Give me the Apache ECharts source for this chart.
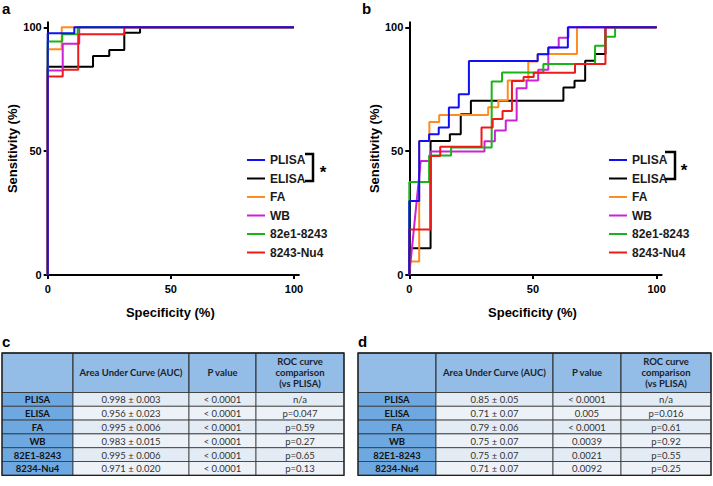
<!DOCTYPE html>
<html><head><meta charset="utf-8">
<script src="https://cdn.jsdelivr.net/npm/echarts@6/dist/echarts.min.js"></script>
<style>html,body{margin:0;padding:0;background:#fff}#c{width:713px;height:486px}</style>
</head><body><div id="c"></div>
<script>
// ---- data ----
const seriesNames = ['PLISA', 'ELISA', 'FA', 'WB', '82e1-8243', '8243-Nu4'];
const seriesColors = ['#1010F5', '#000000', '#FF8C1E', '#CC22D6', '#19B419', '#EE1A1A'];
const axisTicks = [0, 50, 100];

// panel a: [specificity axis value (%), sensitivity (%)]
const aPLISA = [[0,0],[0,97.6],[10.8,97.6],[10.8,100],[100,100]];
const aELISA = [[0,0],[0,84.1],[18.4,84.1],[18.4,88.4],[25,88.4],[25,90.8],[31.1,90.8],[31.1,97.8],[37.5,97.8],[37.5,100],[100,100]];
const aFA = [[0,0],[0,91.1],[5.7,91.1],[5.7,100],[100,100]];
const aWB = [[0,0],[0,82.5],[6.1,82.5],[6.1,93.3],[12.8,93.3],[12.8,100],[100,100]];
const a82e1 = [[0,0],[0,94.2],[5.9,94.2],[5.9,97.2],[12.2,97.2],[12.2,100],[100,100]];
const aNu4 = [[0,0],[0,80.1],[6.1,80.1],[6.1,82.8],[12.4,82.8],[12.4,97.2],[31.1,97.2],[31.1,100],[100,100]];

// panel b
const bPLISA = [[0,0],[0,29.9],[4,29.9],[4,54.1],[8,54.1],[8,56.8],[11.9,56.8],[11.9,59.5],[16,59.5],[16,67.6],[20,67.6],[20,73],[24.1,73],[24.1,86.4],[51.9,86.4],[51.9,89.1],[56.2,89.1],[56.2,91.8],[64.1,91.8],[64.1,100],[100,100]];
const bELISA = [[0,0],[0,10.8],[8.6,10.8],[8.6,54.1],[16.4,54.1],[16.4,56.8],[20.8,56.8],[20.8,64.9],[24.9,64.9],[24.9,70.3],[62.3,70.3],[62.3,75.7],[66.8,75.7],[66.8,78.4],[71.1,78.4],[71.1,86.5],[75.1,86.5],[75.1,89.2],[79.3,89.2],[79.3,100],[100,100]];
const bFA = [[0,0],[0,5.4],[4,5.4],[4,54.1],[8.1,54.1],[8.1,61.8],[12.1,61.8],[12.1,64.6],[31.9,64.6],[31.9,67.7],[36,67.7],[36,70.4],[39.8,70.4],[39.8,78.5],[48.1,78.5],[48.1,86.2],[51.9,86.2],[51.9,89.2],[67.8,89.2],[67.8,100],[100,100]];
const bWB = [[0,0],[4.6,46],[8.6,46],[8.6,49.8],[30.4,49.8],[30.4,54],[34.6,54],[34.6,58.3],[39,58.3],[39,62.4],[43.4,62.4],[43.4,75.4],[47.4,75.4],[47.4,78.5],[52.1,78.5],[52.1,82.8],[56.2,82.8],[56.2,91.8],[60.4,91.8],[60.4,95.8],[64.3,95.8],[64.3,100],[100,100]];
const b82e1 = [[0,0],[0,37.5],[8,37.5],[8,48.2],[16.9,48.2],[16.9,51.5],[33.3,51.5],[33.3,78.1],[37.5,78.1],[37.5,81.7],[54.2,81.7],[54.2,85.2],[75.1,85.2],[75.1,92.5],[79.2,92.5],[79.2,96.2],[83.2,96.2],[83.2,100],[100,100]];
const bNu4 = [[0,0],[0,18.4],[8.6,18.4],[8.6,48],[12.5,48],[12.5,51.8],[29.2,51.8],[29.2,59.5],[33.7,59.5],[33.7,63],[37.7,63],[37.7,66.2],[41.5,66.2],[41.5,78.3],[46.2,78.3],[46.2,79.9],[50.3,79.9],[50.3,81.6],[67,81.6],[67,85.2],[79.3,85.2],[79.3,100],[100,100]];

// tables
const tableHeaders = ['', 'Area Under Curve (AUC)', 'P value', 'ROC curve\ncomparison\n(vs PLISA)'];
const rowLabels = ['PLISA', 'ELISA', 'FA', 'WB', '82E1-8243', '8234-Nu4'];
const aucC = ['0.998 ± 0.003', '0.956 ± 0.023', '0.995 ± 0.006', '0.983 ± 0.015', '0.995 ± 0.006', '0.971 ± 0.020'];
const pC = ['< 0.0001', '< 0.0001', '< 0.0001', '< 0.0001', '< 0.0001', '< 0.0001'];
const cmpC = ['n/a', 'p=0.047', 'p=0.59', 'p=0.27', 'p=0.65', 'p=0.13'];
const aucD = ['0.85 ± 0.05', '0.71 ± 0.07', '0.79 ± 0.06', '0.75 ± 0.07', '0.75 ± 0.07', '0.71 ± 0.07'];
const pD = ['< 0.0001', '0.005', '< 0.0001', '0.0039', '0.0021', '0.0092'];
const cmpD = ['n/a', 'p=0.016', 'p=0.61', 'p=0.92', 'p=0.55', 'p=0.25'];

const FONT = 'Liberation Sans, Arial, sans-serif';
const TFONT = 'Lato, Open Sans, sans-serif';

const panelA = [aPLISA, aELISA, aFA, aWB, a82e1, aNu4];
const panelB = [bPLISA, bELISA, bFA, bWB, b82e1, bNu4];

function axisPair(idx) {
  const common = {
    type: 'value', min: 0, max: 102, gridIndex: idx,
    splitLine: {show: false},
    axisLine: {show: true, lineStyle: {color: '#000', width: 2}},
    axisTick: {show: true, length: 4, lineStyle: {color: '#000', width: 2}, customValues: axisTicks},
    axisLabel: {color: '#000', fontWeight: 'bold', fontSize: 11, fontFamily: FONT, customValues: axisTicks,
      formatter: v => (axisTicks.indexOf(v) >= 0 ? String(v) : '')}
  };
  const x = Object.assign({}, common, {
    name: 'Specificity (%)', nameLocation: 'middle', nameGap: 31,
    nameTextStyle: {color: '#000', fontWeight: 'bold', fontSize: 13, fontFamily: FONT, padding: [0, 6, 0, 0]},
    axisLabel: Object.assign({}, common.axisLabel, {margin: 8})
  });
  const y = Object.assign({}, common, {
    name: 'Sensitivity (%)', nameLocation: 'middle', nameGap: 25,
    nameTextStyle: {color: '#000', fontWeight: 'bold', fontSize: 13, fontFamily: FONT},
    axisLabel: Object.assign({}, common.axisLabel, {margin: 6})
  });
  return [x, y];
}
const ax = axisPair(0), bx = axisPair(1);

// draw order: PLISA on top
const drawOrder = [1, 2, 3, 4, 5, 0];
const series = [];
[panelA, panelB].forEach((panel, gi) => {
  drawOrder.forEach(i => {
    series.push({
      type: 'line', name: seriesNames[i], xAxisIndex: gi, yAxisIndex: gi,
      data: panel[i], showSymbol: false, symbol: 'none', color: seriesColors[i],
      lineStyle: {width: 2, color: seriesColors[i]}, animation: false, clip: false
    });
  });
});

function legend(left) {
  return {
    orient: 'vertical', left: left, top: 148, icon: 'rect', itemWidth: 18, itemHeight: 2,
    itemGap: 4.5, data: seriesNames, selectedMode: false,
    itemStyle: {borderWidth: 0},
    lineStyle: {width: 0},
    textStyle: {color: '#1a1a1a', fontWeight: 'bold', fontSize: 12, fontFamily: FONT, lineHeight: 14, padding: [0, 0, 0, 0]}
  };
}

// tables via graphic
function makeTable(colX, top, aucArr, pArr, cmpArr) {
  const els = [];
  const headH = 39.5, rowH = 13.8;
  const rowY = [top + headH];
  for (let i = 0; i < rowLabels.length; i++) rowY.push(rowY[i] + rowH);
  const right = colX[colX.length - 1], left = colX[0];
  for (let c = 0; c < 4; c++) {
    els.push({type: 'rect', shape: {x: colX[c], y: top, width: colX[c+1] - colX[c], height: headH},
      style: {fill: '#93BCE6', stroke: '#2a2a2a', lineWidth: 1}});
    if (tableHeaders[c]) {
      els.push({type: 'text', style: {text: tableHeaders[c], x: (colX[c] + colX[c+1]) / 2, y: top + headH / 2,
        align: 'center', verticalAlign: 'middle', fill: '#1b1f2a', fontSize: 9.5, fontWeight: 'bold',
        fontFamily: TFONT, lineHeight: 11}});
    }
  }
  const cols = [rowLabels, aucArr, pArr, cmpArr];
  for (let r = 0; r < rowLabels.length; r++) {
    for (let c = 0; c < 4; c++) {
      const fill = c === 0 ? '#6EA8E0' : (r % 2 === 0 ? '#E3EBF5' : '#EDF2F8');
      els.push({type: 'rect', shape: {x: colX[c], y: rowY[r], width: colX[c+1] - colX[c], height: rowH},
        style: {fill: fill, stroke: '#333', lineWidth: 0.8}});
      els.push({type: 'text', style: {text: cols[c][r], x: (colX[c] + colX[c+1]) / 2, y: rowY[r] + rowH / 2 + 0.5,
        align: 'center', verticalAlign: 'middle', fill: c === 0 ? '#111' : '#333',
        fontSize: 9.5, fontWeight: c === 0 ? 'bold' : 'normal', fontFamily: TFONT}});
    }
  }
  els.push({type: 'rect', shape: {x: left, y: top, width: right - left, height: rowY[rowY.length - 1] - top},
    style: {fill: null, stroke: '#222', lineWidth: 1.3}});
  return els;
}

const graphics = [
  {type: 'text', style: {text: 'a', x: 2, y: 8, verticalAlign: 'middle', fontSize: 15, fontWeight: 'bold', fontFamily: FONT, fill: '#000'}},
  {type: 'text', style: {text: 'b', x: 362, y: 8, verticalAlign: 'middle', fontSize: 15, fontWeight: 'bold', fontFamily: FONT, fill: '#000'}},
  {type: 'text', style: {text: 'c', x: 2, y: 341, verticalAlign: 'middle', fontSize: 15, fontWeight: 'bold', fontFamily: FONT, fill: '#000'}},
  {type: 'text', style: {text: 'd', x: 358, y: 341, verticalAlign: 'middle', fontSize: 15, fontWeight: 'bold', fontFamily: FONT, fill: '#000'}},
  {type: 'polyline', shape: {points: [[305, 154], [313, 154], [313, 181], [305, 181]]}, style: {stroke: '#000', lineWidth: 2.5, fill: null}},
  {type: 'text', style: {text: '*', x: 323, y: 172, align: 'center', verticalAlign: 'middle', fontSize: 17, fontWeight: 'bold', fontFamily: FONT, fill: '#000'}},
  {type: 'polyline', shape: {points: [[665, 152], [675, 152], [675, 179], [665, 179]]}, style: {stroke: '#000', lineWidth: 2.5, fill: null}},
  {type: 'text', style: {text: '*', x: 684, y: 170, align: 'center', verticalAlign: 'middle', fontSize: 17, fontWeight: 'bold', fontFamily: FONT, fill: '#000'}}
].concat(makeTable([2, 73, 189, 256, 344], 353, aucC, pC, cmpC))
 .concat(makeTable([358, 436, 553, 621, 711], 353, aucD, pD, cmpD));

const chart = echarts.init(document.getElementById('c'), null, {renderer: 'svg', width: 713, height: 486});
chart.setOption({
  animation: false,
  backgroundColor: '#fff',
  grid: [
    {left: 47.7, top: 22.3, width: 251.2, height: 252.7},
    {left: 409.3, top: 22.3, width: 252.3, height: 252.7}
  ],
  xAxis: [ax[0], bx[0]],
  yAxis: [ax[1], bx[1]],
  legend: [legend(242), legend(604)],
  series: series,
  graphic: graphics
});
</script></body></html>
